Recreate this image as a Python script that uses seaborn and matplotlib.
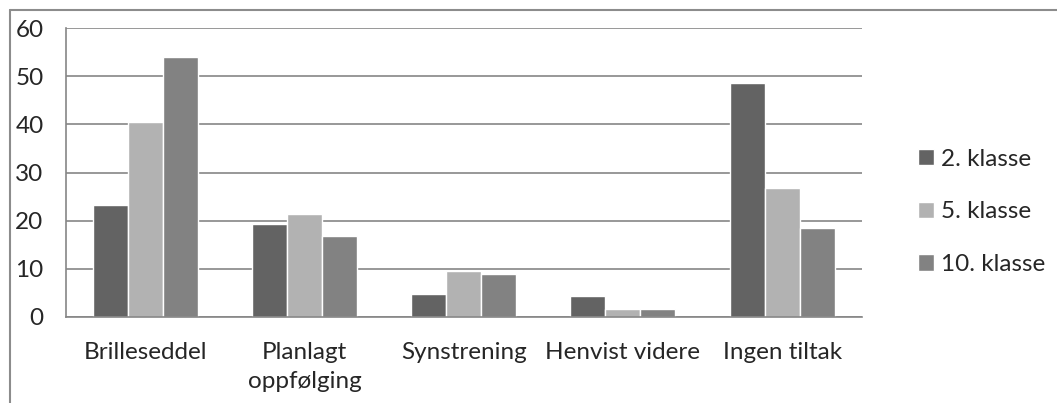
import pandas as pd
import seaborn as sns
import matplotlib.pyplot as plt
from matplotlib.lines import Line2D

categories = ["Brilleseddel", "Planlagt\noppfølging", "Synstrening", "Henvist videre", "Ingen tiltak"]
series = ["2. klasse", "5. klasse", "10. klasse"]
klasse2 = [23.2, 19.4, 4.7, 4.4, 48.5]
klasse5 = [40.4, 21.4, 9.5, 1.7, 26.8]
klasse10 = [54.0, 16.8, 8.9, 1.7, 18.5]
colors = ["#636363", "#b2b2b2", "#828282"]

rows = []
for name, vals in zip(series, [klasse2, klasse5, klasse10]):
    for c, v in zip(categories, vals):
        rows.append({"kategori": c, "klasse": name, "verdi": v})
df = pd.DataFrame(rows)

sns.set_style("white")
plt.rcParams["font.family"] = ["Lato", "DejaVu Sans"]
fs = 17.5

fig = plt.figure(figsize=(10.57, 4.03), dpi=100)
ax = fig.add_axes([0.0622, 0.2134, 0.7530, 0.7171])

sns.barplot(
    data=df, x="kategori", y="verdi", hue="klasse",
    palette=colors, width=0.66, ax=ax, saturation=1, legend=True,
)

grid = "#868686"
ax.set_ylim(0, 60)
ax.set_yticks(range(0, 61, 10))
ax.set_xlim(-0.5, 4.5)
ax.set_xticks([i - 0.5 for i in range(6)])
ax.set_xticklabels([])
ax.set_xticks(range(5), minor=True)
ax.set_xticklabels(categories, minor=True, fontsize=fs, linespacing=1.5)
ax.tick_params(axis="x", which="minor", length=0, pad=18)
ax.tick_params(axis="x", which="major", length=6, width=1.2, color=grid, direction="out")
ax.tick_params(axis="y", length=6, width=1.2, color=grid, labelsize=fs, pad=10)
ax.yaxis.grid(True, color=grid, linewidth=1.2)
ax.set_axisbelow(True)
for s in ["top", "right"]:
    ax.spines[s].set_visible(False)
for s in ["left", "bottom"]:
    ax.spines[s].set_color(grid)
    ax.spines[s].set_linewidth(1.2)
ax.set_xlabel("")
ax.set_ylabel("")

handles, labels = ax.get_legend_handles_labels()
ax.legend(
    handles, labels, loc="center left", bbox_to_anchor=(0.8685, 0.474),
    bbox_transform=fig.transFigure, frameon=False, fontsize=fs,
    handlelength=0.65, handleheight=0.65, handletextpad=0.3, labelspacing=1.3,
    borderpad=0, borderaxespad=0,
)

# outer chart frame (cropped at right and bottom)
fig.add_artist(Line2D([10 / 1057, 10 / 1057], [0, 1 - 10 / 403], color="#8c8c8c", lw=1.5))
fig.add_artist(Line2D([10 / 1057, 1], [1 - 10 / 403, 1 - 10 / 403], color="#8c8c8c", lw=1.5))

fig.savefig("out.png", dpi=100)
